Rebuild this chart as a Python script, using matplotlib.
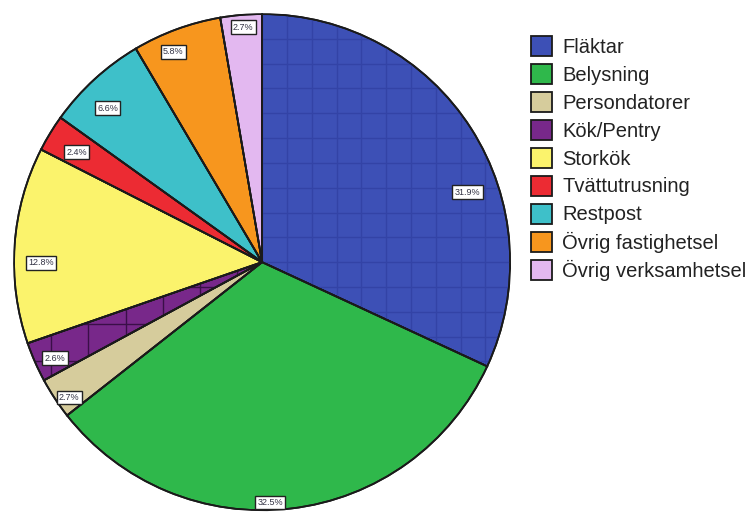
import matplotlib
matplotlib.use("Agg")
import matplotlib.pyplot as plt
from matplotlib.patches import Wedge
import numpy as np

categories = ["Fläktar", "Belysning", "Persondatorer", "Kök/Pentry", "Storkök",
              "Tvättutrusning", "Restpost", "Övrig fastighetsel", "Övrig verksamhetsel"]
values = [31.9, 32.5, 2.7, 2.6, 12.8, 2.4, 6.6, 5.8, 2.7]
labels = ["31.9%", "32.5%", "2.7%", "2.6%", "12.8%", "2.4%", "6.6%", "5.8%", "2.7%"]

colors = ["#3d50b6", "#2fb84b", "#d6cc9c", "#78288a", "#fbf36c",
          "#ec2b33", "#3ec0c9", "#f7961e", "#e3b8f0"]
# grid pattern (spacing in radius units, line colour) for patterned slices
grid_spacing = [0.10, None, None, 0.15, None, None, None, None, None]
grid_colors = ["#3343a6", None, None, "#3a0f48", None, None, None, None, None]
# label placement: fraction along the slice (clockwise) and radius fraction
label_frac = [0.62, 0.54, 0.32, 0.38, 0.41, 0.42, 0.39, 0.37, 0.53]
label_r = [0.875, 0.97, 0.95, 0.92, 0.89, 0.87, 0.88, 0.92, 0.95]

plt.rcParams['font.family'] = ['Liberation Sans', 'DejaVu Sans']
fig = plt.figure(figsize=(7.54, 5.12), dpi=100)
ax = fig.add_axes([0.0186, 0.0035, 0.658, 0.969])

wedges, _ = ax.pie(values, colors=colors, startangle=90, counterclock=False,
                   wedgeprops=dict(edgecolor="#1a1a1a", linewidth=1.3))

for w, sp, gc in zip(wedges, grid_spacing, grid_colors):
    if sp:
        ticks = np.arange(-1.0, 1.0 + 1e-9, sp)
        for t in ticks:
            for xs, ys in (([t, t], [-1, 1]), ([-1, 1], [t, t])):
                ln, = ax.plot(xs, ys, color=gc, linewidth=1.0, zorder=1.5)
                ln.set_clip_path(w)
    w.set_zorder(1)

# outlines on top of the grid lines
for w in wedges:
    ol = Wedge(w.center, w.r, w.theta1, w.theta2, facecolor="none",
               edgecolor="#1a1a1a", linewidth=1.3, zorder=2)
    ax.add_patch(ol)

for w, lab, f, r in zip(wedges, labels, label_frac, label_r):
    ang = np.deg2rad(w.theta2 - f * (w.theta2 - w.theta1))
    ax.text(r * np.cos(ang), r * np.sin(ang), lab, ha="center", va="center",
            fontsize=6.5, color="#333344", zorder=10,
            bbox=dict(boxstyle="square,pad=0.25", facecolor="white",
                      edgecolor="#222222", linewidth=1.0))

ax.set_xlim(-1, 1)
ax.set_ylim(-1, 1)
ax.set_aspect("equal")

leg = fig.legend(wedges, categories, loc="upper left", bbox_to_anchor=(0.704, 0.93),
                 frameon=False, fontsize=14.5, handlelength=1.05, handleheight=1.15,
                 handletextpad=0.5, labelspacing=0.355, borderaxespad=0,
                 borderpad=0)
for t in leg.get_texts():
    t.set_color("#222222")
for h in leg.legend_handles:
    h.set_edgecolor("#1a1a1a")
    h.set_linewidth(1.3)
fig.savefig("out.png", dpi=100)
